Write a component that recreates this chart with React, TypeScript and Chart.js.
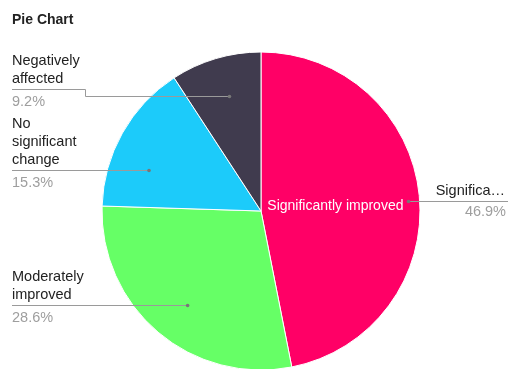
import React, { useEffect, useRef } from "react";
import { Chart, registerables } from "chart.js";

Chart.register(...registerables);

const categories = ["Significantly improved", "Moderately improved", "No significant change", "Negatively affected"];
const shares = [46.9, 28.6, 15.3, 9.2];
const sliceColors = ["#FF0066", "#66FF66", "#1CCBFA", "#403B4E"];
const chartTitle = "Pie Chart";

// label layout (positions only)
const labelSide = ["right", "left", "left", "left"];
const labelLineY = [201, 305, 170, 89];
const labelDotY = [201, 305, 170, 96];
const labelDotFrac = [0.93, 0.75, 0.75, 0.75];

const FONT = "'Liberation Sans', Arial, sans-serif";

function wrap(ctx: CanvasRenderingContext2D, text: string, maxW: number): string[] {
  const words = text.split(" ");
  const lines: string[] = [];
  let cur = "";
  for (const w of words) {
    const t = cur ? cur + " " + w : w;
    if (ctx.measureText(t).width > maxW && cur) {
      lines.push(cur);
      cur = w;
    } else cur = t;
  }
  if (cur) lines.push(cur);
  return lines;
}

function truncate(ctx: CanvasRenderingContext2D, text: string, maxW: number): string {
  if (ctx.measureText(text).width <= maxW) return text;
  let s = text;
  while (s.length > 1 && ctx.measureText(s + "\u2026").width > maxW) s = s.slice(0, -1);
  return s + "\u2026";
}

const labelPlugin = {
  id: "pieLabels",
  afterDatasetsDraw(chart: any) {
    const ctx: CanvasRenderingContext2D = chart.ctx;
    const meta = chart.getDatasetMeta(0);
    const total = shares.reduce((a, b) => a + b, 0);
    ctx.save();
    // title
    ctx.font = `bold 14px ${FONT}`;
    ctx.fillStyle = "#222";
    ctx.textAlign = "left";
    ctx.textBaseline = "alphabetic";
    ctx.fillText(chartTitle, 12, 24);

    meta.data.forEach((arc: any, i: number) => {
      const { x: cx, y: cy, outerRadius: R, startAngle, endAngle } = arc.getProps(
        ["x", "y", "outerRadius", "startAngle", "endAngle"],
        true
      );
      const frac = shares[i] / total;
      // inside label for big slices
      if (frac > 0.3) {
        const mid = (startAngle + endAngle) / 2;
        const ix = cx + Math.cos(mid) * R * 0.47;
        const iy = cy + Math.sin(mid) * R * 0.47;
        ctx.font = `14px ${FONT}`;
        ctx.fillStyle = "#ffffff";
        ctx.textAlign = "center";
        ctx.textBaseline = "middle";
        ctx.fillText(categories[i], ix, iy + 2);
      }
      const lineY = labelLineY[i];
      const dotY = labelDotY[i];
      const r = R * labelDotFrac[i];
      const dy = dotY - cy;
      const dx = Math.sqrt(Math.max(r * r - dy * dy, 0));
      const side = labelSide[i];
      const dotX = side === "left" ? cx - dx : cx + dx;
      // leader line
      ctx.strokeStyle = "#9a9a9a";
      ctx.lineWidth = 1;
      ctx.beginPath();
      if (side === "left") {
        ctx.moveTo(12, lineY + 0.5);
        if (dotY !== lineY) {
          ctx.lineTo(85.5, lineY + 0.5);
          ctx.lineTo(85.5, dotY + 0.5);
        }
        ctx.lineTo(dotX, dotY + 0.5);
      } else {
        ctx.moveTo(dotX, lineY + 0.5);
        ctx.lineTo(508, lineY + 0.5);
      }
      ctx.stroke();
      ctx.fillStyle = "#777";
      ctx.beginPath();
      ctx.arc(dotX, dotY + 0.5, 1.8, 0, Math.PI * 2);
      ctx.fill();

      // texts
      ctx.font = `14.5px ${FONT}`;
      ctx.textBaseline = "alphabetic";
      const pct = shares[i].toFixed(1) + "%";
      if (side === "left") {
        ctx.textAlign = "left";
        const lines = wrap(ctx, categories[i], 80);
        ctx.fillStyle = "#222";
        lines.forEach((ln, k) => {
          ctx.fillText(ln, 12, lineY - 6 - (lines.length - 1 - k) * 18);
        });
        ctx.fillStyle = "#9e9e9e";
        ctx.fillText(pct, 12, lineY + 17);
      } else {
        ctx.textAlign = "right";
        ctx.fillStyle = "#222";
        ctx.fillText(truncate(ctx, categories[i], 73), 505, lineY - 6);
        ctx.fillStyle = "#9e9e9e";
        ctx.fillText(pct, 506, lineY + 15);
      }
    });
    ctx.restore();
  },
};

export default function App() {
  const ref = useRef<HTMLCanvasElement>(null);
  useEffect(() => {
    document.body.style.margin = "0";
    const chart = new Chart(ref.current!, {
      type: "pie",
      data: {
        labels: categories,
        datasets: [
          {
            data: shares,
            backgroundColor: sliceColors,
            borderColor: "#ffffff",
            borderWidth: 1,
          },
        ],
      },
      options: {
        responsive: false,
        animation: false,
        devicePixelRatio: 1,
        layout: { padding: { left: 101.5, right: 87.5, top: 51.5, bottom: 1.5 } },
        plugins: {
          legend: { display: false },
          tooltip: { enabled: false },
          title: { display: false },
        },
      },
      plugins: [labelPlugin],
    });
    return () => chart.destroy();
  }, []);
  return (
    <div style={{ position: "absolute", left: 0, top: 0, width: 508, height: 369, overflow: "hidden", background: "#fff" }}>
      <canvas ref={ref} width={508} height={372} style={{ width: 508, height: 372, display: "block" }} />
    </div>
  );
}
